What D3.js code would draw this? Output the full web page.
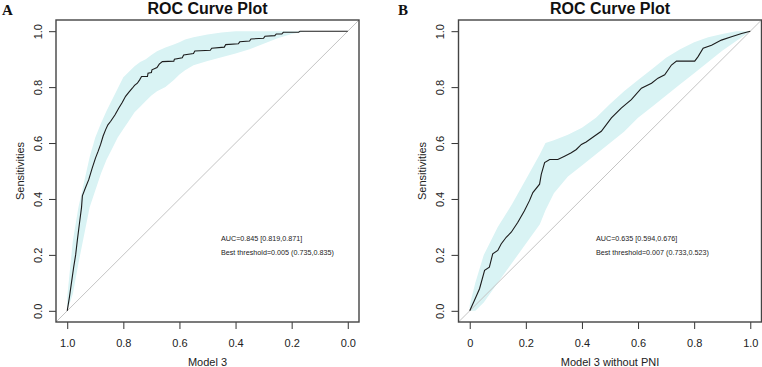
<!DOCTYPE html>
<html>
<head>
<meta charset="utf-8">
<script src="https://cdn.jsdelivr.net/npm/d3@7"></script>
<style>
  body { margin: 0; background: #fff; }
  svg { display: block; font-family: "Liberation Sans", Arial, sans-serif; }
</style>
</head>
<body>
<div id="chart"></div>
<script>
// ---- data ----
// Panel A: specificity (axis runs 1 -> 0) vs sensitivity
const specA = [1.000, 0.992, 0.977, 0.970, 0.964, 0.956, 0.949, 0.946, 0.935, 0.923, 0.911, 0.899, 0.890, 0.881,
  0.872, 0.863, 0.855, 0.845, 0.830, 0.816, 0.804, 0.792, 0.780, 0.768, 0.760, 0.750, 0.742, 0.735,
  0.714, 0.712, 0.700, 0.698, 0.680, 0.672, 0.661, 0.620, 0.618, 0.590, 0.585, 0.550, 0.545, 0.490,
  0.485, 0.440, 0.435, 0.390, 0.385, 0.350, 0.345, 0.300, 0.295, 0.260, 0.255, 0.235, 0.230, 0.175,
  0.170, 0.000];
const sensA = [0.000, 0.050, 0.156, 0.200, 0.252, 0.316, 0.370, 0.411, 0.440, 0.470, 0.510, 0.547, 0.570, 0.595,
  0.625, 0.648, 0.665, 0.678, 0.700, 0.725, 0.745, 0.767, 0.782, 0.796, 0.806, 0.814, 0.826, 0.838,
  0.838, 0.850, 0.852, 0.862, 0.870, 0.882, 0.891, 0.893, 0.900, 0.905, 0.915, 0.920, 0.929, 0.932,
  0.939, 0.943, 0.952, 0.955, 0.962, 0.965, 0.972, 0.975, 0.982, 0.984, 0.990, 0.990, 0.996, 0.996,
  1.000, 1.000];
// confidence band of sensitivity at given specificities
const bandSpecA = [1.00, 0.98, 0.96, 0.94, 0.92, 0.90, 0.88, 0.86, 0.84, 0.82, 0.80, 0.78, 0.76, 0.74, 0.72,
  0.70, 0.68, 0.65, 0.62, 0.60, 0.58, 0.55, 0.50, 0.45, 0.40, 0.35, 0.30, 0.25, 0.20, 0.15, 0.10, 0.05, 0.00];
const bandLowA = [0.00, 0.06, 0.17, 0.27, 0.37, 0.43, 0.49, 0.54, 0.58, 0.62, 0.65, 0.68, 0.71, 0.73, 0.75,
  0.77, 0.785, 0.80, 0.825, 0.845, 0.86, 0.878, 0.893, 0.907, 0.92, 0.935, 0.955, 0.975, 0.99, 1.00, 1.00, 1.00, 1.00];
const bandHighA = [0.05, 0.25, 0.37, 0.46, 0.55, 0.62, 0.67, 0.715, 0.755, 0.795, 0.835, 0.855, 0.875, 0.89, 0.90,
  0.915, 0.928, 0.942, 0.952, 0.96, 0.97, 0.978, 0.988, 0.995, 1.00, 1.00, 1.00, 1.00, 1.00, 1.00, 1.00, 1.00, 1.00];

// Panel B: 1 - specificity (axis runs 0 -> 1) vs sensitivity
const fprB = [0.000, 0.017, 0.035, 0.053, 0.070, 0.082, 0.100, 0.112, 0.130, 0.148, 0.171, 0.195, 0.213, 0.225,
  0.249, 0.255, 0.267, 0.285, 0.314, 0.338, 0.362, 0.380, 0.398, 0.415, 0.445, 0.469, 0.505, 0.540,
  0.576, 0.612, 0.648, 0.671, 0.695, 0.719, 0.737, 0.802, 0.814, 0.832, 0.862, 0.897, 0.933, 0.969, 1.000];
const sensB = [0.000, 0.038, 0.079, 0.145, 0.156, 0.204, 0.216, 0.239, 0.263, 0.281, 0.316, 0.358, 0.394, 0.423,
  0.453, 0.488, 0.530, 0.541, 0.541, 0.553, 0.565, 0.577, 0.595, 0.604, 0.625, 0.642, 0.690, 0.725,
  0.755, 0.796, 0.814, 0.832, 0.844, 0.879, 0.893, 0.893, 0.909, 0.939, 0.950, 0.968, 0.980, 0.992, 1.000];
const bandFprB = [0.00, 0.02, 0.05, 0.10, 0.15, 0.20, 0.25, 0.27, 0.30, 0.35, 0.40, 0.45, 0.50, 0.55, 0.60,
  0.65, 0.70, 0.75, 0.80, 0.85, 0.90, 0.95, 1.00];
const bandLowB = [0.00, 0.00, 0.03, 0.10, 0.17, 0.24, 0.31, 0.36, 0.42, 0.48, 0.52, 0.56, 0.60, 0.64, 0.69,
  0.73, 0.77, 0.81, 0.85, 0.89, 0.93, 0.965, 1.00];
const bandHighB = [0.02, 0.10, 0.20, 0.30, 0.38, 0.47, 0.56, 0.60, 0.61, 0.63, 0.655, 0.69, 0.74, 0.785, 0.825,
  0.865, 0.905, 0.935, 0.96, 0.978, 0.99, 1.00, 1.00];

const yTicks = [0, 0.2, 0.4, 0.6, 0.8, 1.0];
const xTicksA = [1.0, 0.8, 0.6, 0.4, 0.2, 0.0];
const xTickLabelsA = ["1.0", "0.8", "0.6", "0.4", "0.2", "0.0"];
const xTicksB = [0, 0.2, 0.4, 0.6, 0.8, 1.0];
const xTickLabelsB = ["0", "0.2", "0.4", "0.6", "0.8", "1.0"];
const yTickLabels = ["0.0", "0.2", "0.4", "0.6", "0.8", "1.0"];

const width = 762, height = 367;
const svg = d3.select("#chart").append("svg")
  .attr("width", width)
  .attr("height", height);

function panel(opt) {
  const w = 303, h = 302;
  const g = svg.append("g").attr("transform", "translate(" + opt.left + ",20)");

  const x = d3.scaleLinear().domain(opt.xDomain).range([0, w]);
  const y = d3.scaleLinear().domain([-0.04, 1.04]).range([h, 0]);

  // confidence band
  const band = opt.bandX.map((v, i) => [v, opt.bandLow[i], opt.bandHigh[i]]);
  g.append("path")
    .attr("fill", "#d9f3f4")
    .attr("stroke", "none")
    .attr("d", d3.area()
      .x(d => x(d[0]))
      .y0(d => y(d[1]))
      .y1(d => y(d[2]))(band));

  // reference diagonal across the whole box
  g.append("line")
    .attr("x1", 0).attr("y1", h)
    .attr("x2", w).attr("y2", 0)
    .attr("stroke", "#c4c4c4")
    .attr("stroke-width", 1);

  // ROC curve
  const pts = opt.curveX.map((v, i) => [v, opt.curveY[i]]);
  g.append("path")
    .attr("fill", "none")
    .attr("stroke", "#1c1c1c")
    .attr("stroke-width", 1.1)
    .attr("d", d3.line().x(d => x(d[0])).y(d => y(d[1]))(pts));

  // axes
  const yAxis = g.append("g")
    .call(d3.axisLeft(y).tickValues(yTicks).tickSize(7)
      .tickFormat((d, i) => yTickLabels[i]));
  yAxis.select(".domain").remove();
  yAxis.selectAll("line").attr("stroke", "#333");
  yAxis.selectAll("text")
    .attr("x", null).attr("dy", null)
    .attr("transform", "translate(-14.5,0) rotate(-90)")
    .attr("text-anchor", "middle")
    .attr("fill", "#222")
    .style("font-size", "11px")
    .style("font-family", "'Liberation Sans', Arial, sans-serif");

  const xAxis = g.append("g")
    .attr("transform", "translate(0," + h + ")")
    .call(d3.axisBottom(x).tickValues(opt.xTicks).tickSize(7).tickPadding(10)
      .tickFormat((d, i) => opt.xLabels[i]));
  xAxis.select(".domain").remove();
  xAxis.selectAll("line").attr("stroke", "#333");
  xAxis.selectAll("text")
    .attr("fill", "#222")
    .style("font-size", "11px")
    .style("font-family", "'Liberation Sans', Arial, sans-serif");

  // box
  g.append("rect")
    .attr("x", 0).attr("y", 0)
    .attr("width", w).attr("height", h)
    .attr("fill", "none")
    .attr("stroke", "#444")
    .attr("stroke-width", 1.4);

  // titles
  g.append("text")
    .attr("x", w / 2).attr("y", -6.5)
    .attr("text-anchor", "middle")
    .style("font-size", "16px").style("font-weight", "bold")
    .attr("fill", "#111")
    .text("ROC Curve Plot");

  g.append("text")
    .attr("x", w / 2).attr("y", h + 44)
    .attr("text-anchor", "middle")
    .style("font-size", "11px")
    .attr("fill", "#222")
    .text(opt.xTitle);

  g.append("text")
    .attr("transform", "translate(-32.5," + (h / 2) + ") rotate(-90)")
    .attr("text-anchor", "middle")
    .style("font-size", "11px")
    .attr("fill", "#222")
    .text("Sensitivities");

  // AUC annotation
  g.append("text")
    .attr("x", x(opt.labelX)).attr("y", y(0.259))
    .attr("dominant-baseline", "central")
    .style("font-size", "7.2px")
    .attr("fill", "#222")
    .text(opt.auc);
  g.append("text")
    .attr("x", x(opt.labelX)).attr("y", y(0.208))
    .attr("dominant-baseline", "central")
    .style("font-size", "7.2px")
    .attr("fill", "#222")
    .text(opt.best);

  // panel letter
  svg.append("text")
    .attr("x", opt.letterX).attr("y", 15)
    .style("font-family", "'Liberation Serif', 'Times New Roman', serif")
    .style("font-size", "15px").style("font-weight", "bold")
    .attr("fill", "#111")
    .text(opt.letter);
}

panel({
  left: 56, xDomain: [1.04, -0.04],
  curveX: specA, curveY: sensA,
  bandX: bandSpecA, bandLow: bandLowA, bandHigh: bandHighA,
  xTicks: xTicksA, xLabels: xTickLabelsA,
  xTitle: "Model 3", labelX: 0.452,
  auc: "AUC=0.845 [0.819,0.871]",
  best: "Best threshold=0.005 (0.735,0.835)",
  letter: "A", letterX: 2
});

panel({
  left: 458.5, xDomain: [-0.04, 1.04],
  curveX: fprB, curveY: sensB,
  bandX: bandFprB, bandLow: bandLowB, bandHigh: bandHighB,
  xTicks: xTicksB, xLabels: xTickLabelsB,
  xTitle: "Model 3 without PNI", labelX: 0.45,
  auc: "AUC=0.635 [0.594,0.676]",
  best: "Best threshold=0.007 (0.733,0.523)",
  letter: "B", letterX: 398
});
</script>
</body>
</html>
